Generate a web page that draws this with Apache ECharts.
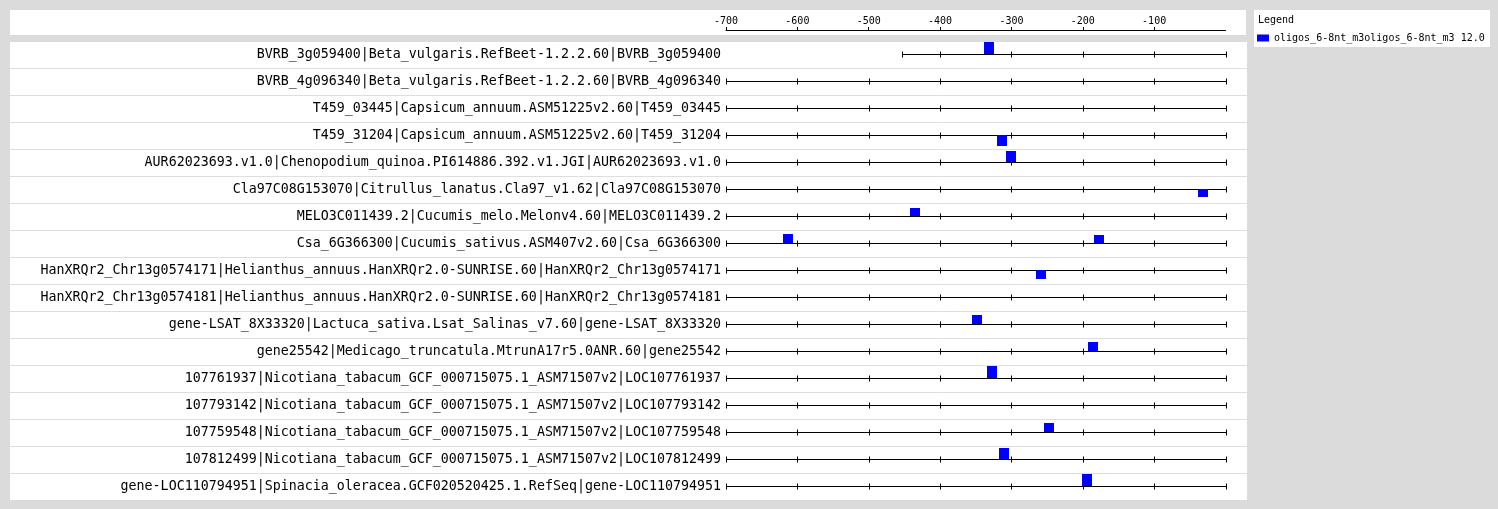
<!DOCTYPE html>
<html>
<head>
<meta charset="utf-8">
<script src="https://cdn.jsdelivr.net/npm/echarts@6/dist/echarts.min.js"></script>
<style>
html,body{margin:0;padding:0;background:#dbdbdb;}
#chart{width:1498px;height:509px;}
</style>
</head>
<body>
<div id="chart"></div>
<script>
// ---- data ----
const rowLabels = [
  'BVRB_3g059400|Beta_vulgaris.RefBeet-1.2.2.60|BVRB_3g059400',
  'BVRB_4g096340|Beta_vulgaris.RefBeet-1.2.2.60|BVRB_4g096340',
  'T459_03445|Capsicum_annuum.ASM51225v2.60|T459_03445',
  'T459_31204|Capsicum_annuum.ASM51225v2.60|T459_31204',
  'AUR62023693.v1.0|Chenopodium_quinoa.PI614886.392.v1.JGI|AUR62023693.v1.0',
  'Cla97C08G153070|Citrullus_lanatus.Cla97_v1.62|Cla97C08G153070',
  'MELO3C011439.2|Cucumis_melo.Melonv4.60|MELO3C011439.2',
  'Csa_6G366300|Cucumis_sativus.ASM407v2.60|Csa_6G366300',
  'HanXRQr2_Chr13g0574171|Helianthus_annuus.HanXRQr2.0-SUNRISE.60|HanXRQr2_Chr13g0574171',
  'HanXRQr2_Chr13g0574181|Helianthus_annuus.HanXRQr2.0-SUNRISE.60|HanXRQr2_Chr13g0574181',
  'gene-LSAT_8X33320|Lactuca_sativa.Lsat_Salinas_v7.60|gene-LSAT_8X33320',
  'gene25542|Medicago_truncatula.MtrunA17r5.0ANR.60|gene25542',
  '107761937|Nicotiana_tabacum_GCF_000715075.1_ASM71507v2|LOC107761937',
  '107793142|Nicotiana_tabacum_GCF_000715075.1_ASM71507v2|LOC107793142',
  '107759548|Nicotiana_tabacum_GCF_000715075.1_ASM71507v2|LOC107759548',
  '107812499|Nicotiana_tabacum_GCF_000715075.1_ASM71507v2|LOC107812499',
  'gene-LOC110794951|Spinacia_oleracea.GCF020520425.1.RefSeq|gene-LOC110794951'
];
const rowStart = [-454, -700, -700, -700, -700, -700, -700, -700, -700, -700, -700, -700, -700, -700, -700, -700, -700];
const rowEnd   = [0, 0, 0, 0, 0, 0, 0, 0, 0, 0, 0, 0, 0, 0, 0, 0, 0];

const hitRow    = [0, 3, 4, 5, 6, 7, 7, 8, 10, 11, 12, 14, 15, 16];
const hitStart  = [-338, -320, -308, -39, -442, -620, -184, -266, -355, -193, -334, -254, -317, -201];
const hitEnd    = [-324, -306, -294, -25, -428, -606, -170, -252, -341, -179, -320, -240, -303, -187];
const hitStrand = ['+', '-', '+', '-', '+', '+', '+', '-', '+', '+', '+', '+', '+', '+'];
const hitScore  = [12, 11, 11, 7.5, 8, 8.5, 7.5, 9, 8.5, 8.5, 11.5, 9, 10.5, 12];

const axisTicks = [-700, -600, -500, -400, -300, -200, -100];
const legendName = 'oligos_6-8nt_m3oligos_6-8nt_m3 12.0';
const xMin = -700, xMax = 0;

// ---- chart ----
const chart = echarts.init(document.getElementById('chart'));
const MONO = "'DejaVu Sans Mono', monospace";

const rowData = rowLabels.map((l, i) => [i, rowStart[i], rowEnd[i]]);
const hitData = hitRow.map((r, k) => [r, hitStart[k], hitEnd[k], hitStrand[k] === '+' ? 1 : -1, hitScore[k]]);

function linePix(api, i) {
  return Math.round(api.coord([0, i])[1] - 1);
}

const option = {
  backgroundColor: '#dbdbdb',
  animation: false,
  graphic: [
    { type: 'rect', z: -10, shape: { x: 10, y: 10, width: 1236, height: 25 }, style: { fill: '#fff' } },
    { type: 'rect', z: -10, shape: { x: 10, y: 42, width: 1237, height: 458 }, style: { fill: '#fff' } },
    { type: 'rect', z: -10, shape: { x: 1254, y: 10, width: 236, height: 37 }, style: { fill: '#fff' } },
    { type: 'text', z: 5, x: 1258, y: 15, style: { text: 'Legend', font: "10px 'DejaVu Sans Mono'", fill: '#000' } }
  ],
  legend: {
    data: [{ name: legendName, icon: 'rect' }],
    left: 1257, top: 33, padding: 0,
    itemWidth: 12, itemHeight: 7,
    textStyle: { fontFamily: MONO, fontSize: 10, color: '#000' },
    selectedMode: false
  },
  grid: [
    { left: 726, width: 499.5, top: 41, height: 459, containLabel: false },
    { left: 726, width: 499.5, top: 10, height: 20, containLabel: false }
  ],
  xAxis: [
    { gridIndex: 0, type: 'value', min: xMin, max: xMax, show: false },
    {
      gridIndex: 1, type: 'value', min: xMin, max: xMax, interval: 100, position: 'bottom',
      axisLine: { show: true, onZero: false, lineStyle: { color: '#000', width: 1 } },
      axisTick: { show: true, inside: true, length: 3, customValues: axisTicks, lineStyle: { color: '#000' } },
      axisLabel: { show: true, inside: true, margin: 4, customValues: axisTicks, fontFamily: MONO, fontSize: 10, color: '#000' },
      splitLine: { show: false }
    }
  ],
  yAxis: [
    {
      gridIndex: 0, type: 'category', inverse: true, data: rowLabels,
      axisLine: { show: false }, axisTick: { show: false }, splitLine: { show: false },
      axisLabel: { margin: 5, fontFamily: MONO, fontSize: 13.3, color: '#000' }
    },
    { gridIndex: 1, type: 'value', show: false }
  ],
  series: [
    {
      type: 'custom', xAxisIndex: 0, yAxisIndex: 0, silent: true, z: 2,
      encode: { x: [1, 2], y: 0 },
      data: rowData,
      renderItem: function (params, api) {
        const i = api.value(0), s = api.value(1), e = api.value(2);
        const y = linePix(api, i) + 0.5;
        const x0 = Math.round(api.coord([s, i])[0]) + 0.5;
        const x1 = Math.round(api.coord([e, i])[0]) + 0.5;
        const band = api.size([0, 1])[1];
        const children = [];
        const stroke = { stroke: '#000', lineWidth: 1 };
        children.push({ type: 'line', shape: { x1: x0, y1: y, x2: x1, y2: y }, style: stroke });
        const ticks = [s];
        for (let t = Math.ceil(s / 100) * 100; t < e; t += 100) if (t > s) ticks.push(t);
        ticks.push(e);
        ticks.forEach(t => {
          const tx = Math.round(api.coord([t, i])[0]) + 0.5;
          children.push({ type: 'line', shape: { x1: tx, y1: y - 3, x2: tx, y2: y + 3 }, style: stroke });
        });
        if (i < rowLabels.length - 1) {
          const sy = Math.round(api.coord([0, i])[1] + band / 2) + 0.5;
          children.push({ type: 'line', z2: -1, shape: { x1: 10, y1: sy, x2: 1247, y2: sy }, style: { stroke: '#dedede', lineWidth: 1 } });
        }
        return { type: 'group', children: children };
      }
    },
    {
      type: 'custom', name: legendName, xAxisIndex: 0, yAxisIndex: 0, silent: true, z: 3,
      itemStyle: { color: '#0000ff' },
      encode: { x: [1, 2], y: 0 },
      data: hitData,
      renderItem: function (params, api) {
        const i = api.value(0), s = api.value(1), e = api.value(2), strand = api.value(3), score = api.value(4);
        const y = linePix(api, i);
        const xa = Math.round(api.coord([s, i])[0]);
        const xb = Math.round(api.coord([e, i])[0]);
        const h = Math.round(score);
        return {
          type: 'rect',
          shape: { x: xa, y: strand > 0 ? y - h : y, width: xb - xa, height: h },
          style: { fill: '#0000ff' }
        };
      }
    }
  ]
};
chart.setOption(option);
</script>
</body>
</html>
